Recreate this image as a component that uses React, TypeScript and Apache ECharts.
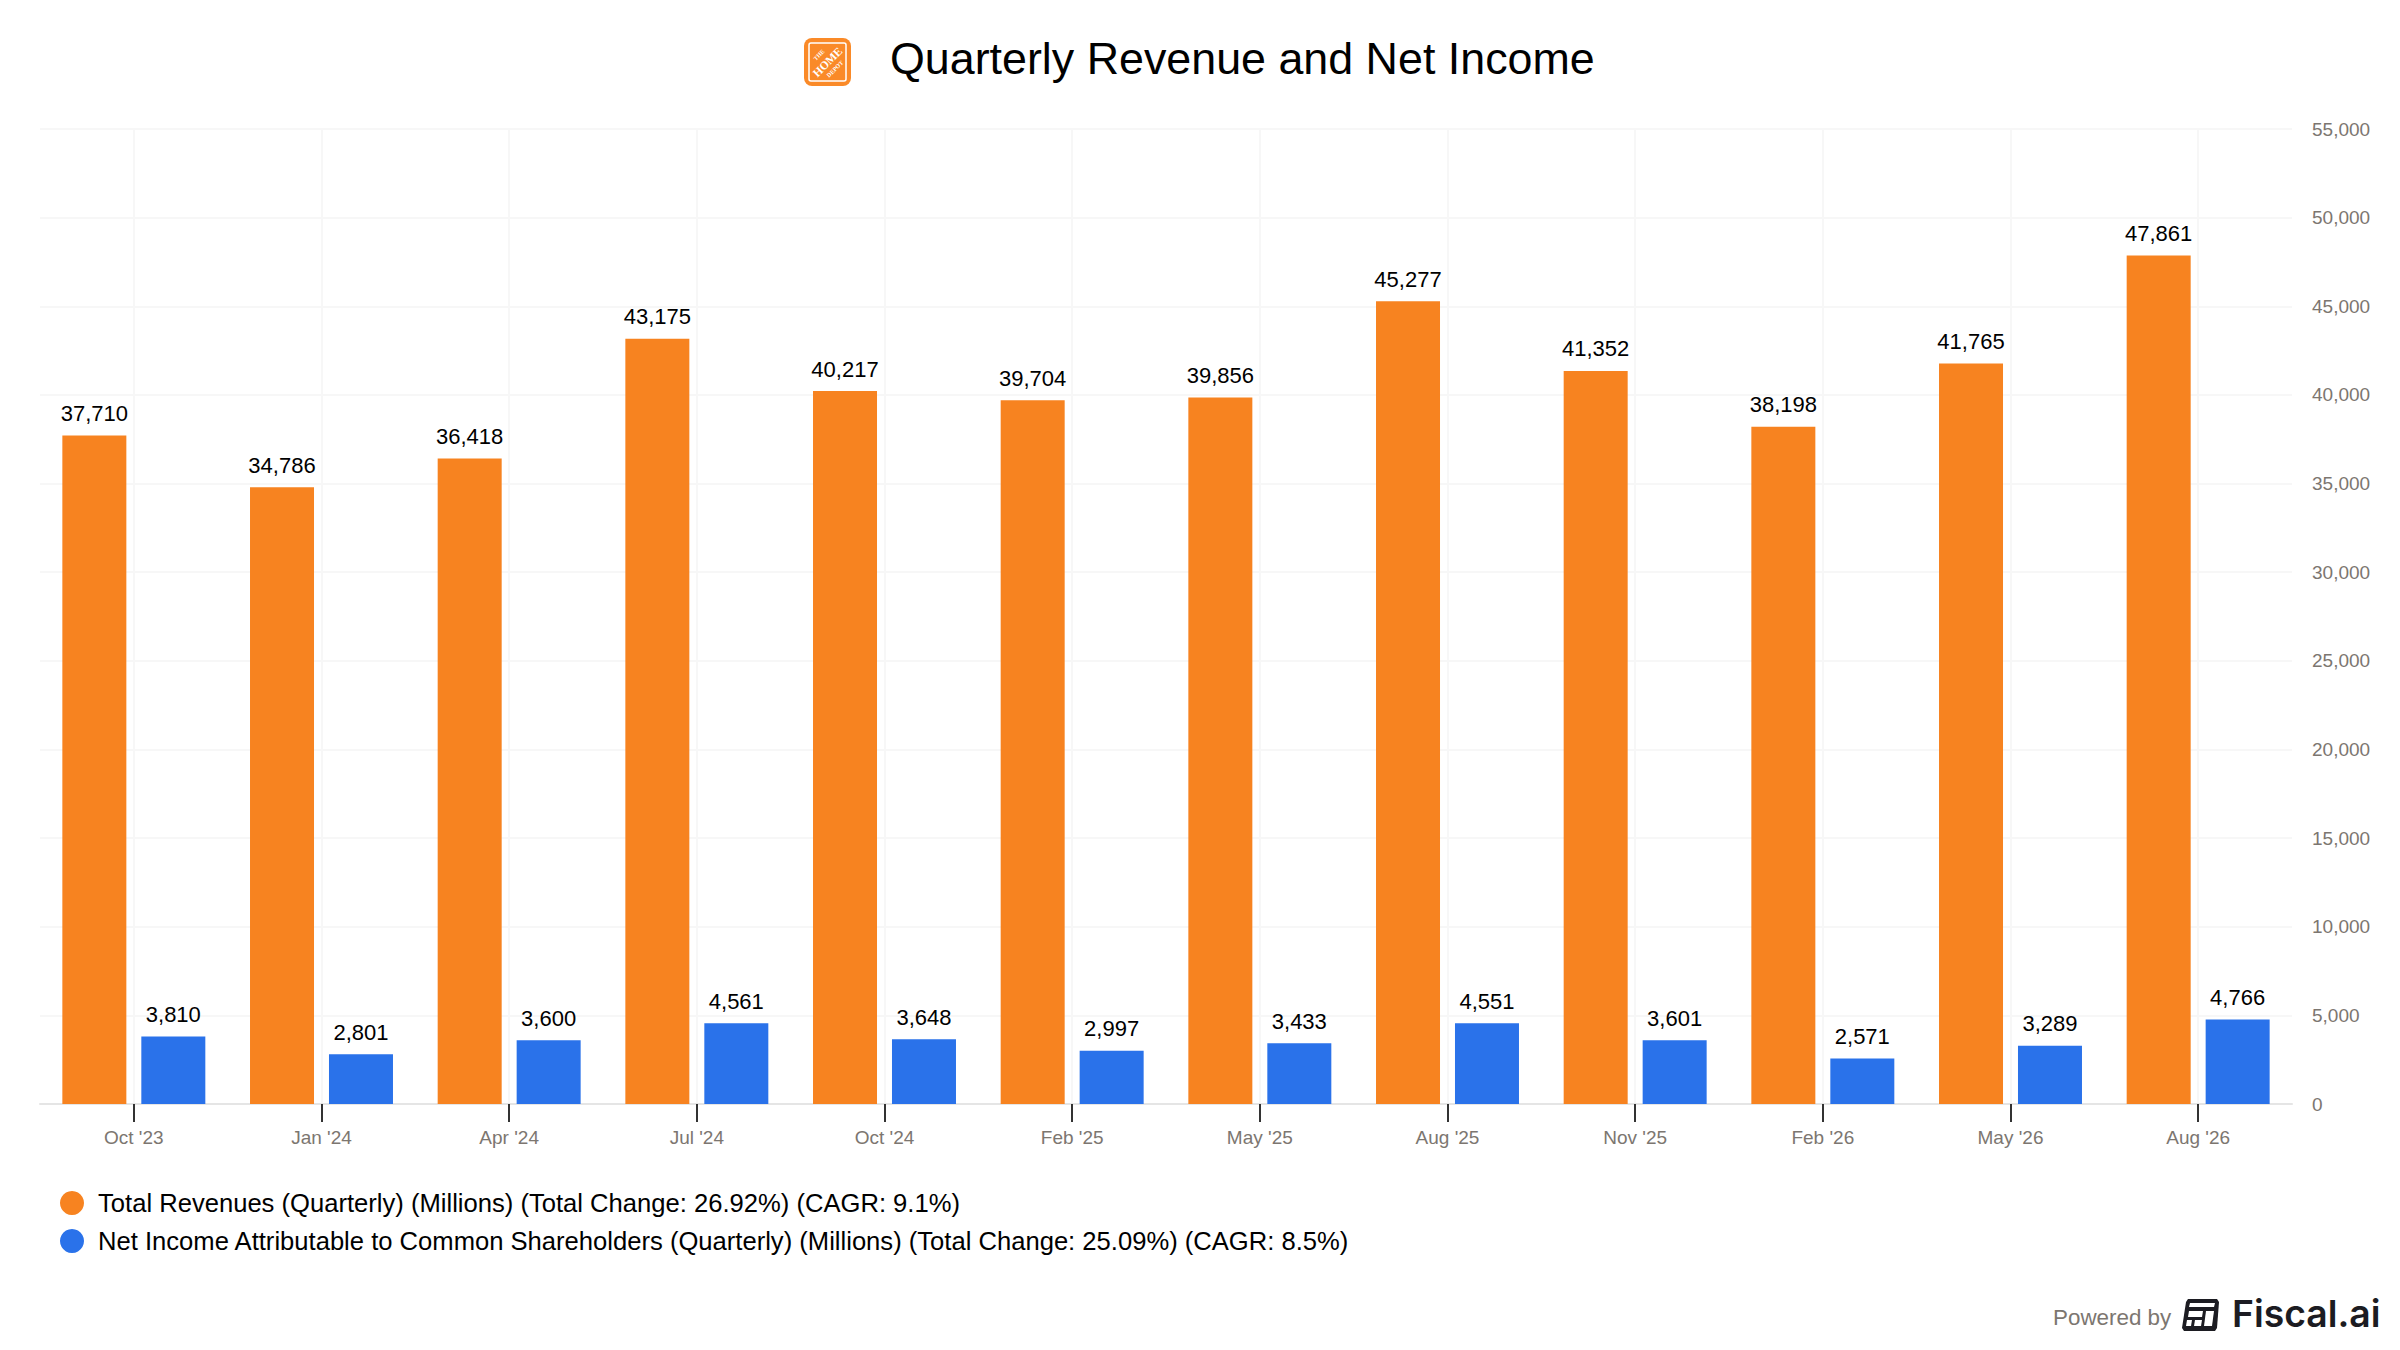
import React, { useEffect, useRef } from 'react';
import * as echarts from 'echarts';

const quarters = ["Oct '23", "Jan '24", "Apr '24", "Jul '24", "Oct '24", "Feb '25", "May '25", "Aug '25", "Nov '25", "Feb '26", "May '26", "Aug '26"];
const revenues = [37710, 34786, 36418, 43175, 40217, 39704, 39856, 45277, 41352, 38198, 41765, 47861];
const netIncome = [3810, 2801, 3600, 4561, 3648, 2997, 3433, 4551, 3601, 2571, 3289, 4766];
const revenueName = 'Total Revenues (Quarterly) (Millions) (Total Change: 26.92%) (CAGR: 9.1%)';
const incomeName = 'Net Income Attributable to Common Shareholders (Quarterly) (Millions) (Total Change: 25.09%) (CAGR: 8.5%)';

const FONT = '"Liberation Sans", Arial, sans-serif';
const ORANGE = '#f78320';
const BLUE = '#2a72ea';
const GRAY = '#7c7670';
const INK = '#1c1c22';

// small slanted panels of the Fiscal.ai mark
const markPanels = [
  [[8, 4], [33, 4], [32, 8], [7, 8]],
  [[7, 12], [21, 12], [20, 18], [6, 18]],
  [[24, 12], [32, 12], [30, 27], [22, 27]],
  [[5, 21], [10, 21], [9, 27], [4, 27]],
  [[13, 21], [20, 21], [19, 27], [12, 27]],
];

const logoWord = (text: string, x: number, y: number, size: number) => ({
  type: 'text',
  x,
  y,
  rotation: Math.PI / 4,
  style: { text, fill: '#fff', fontSize: size, fontWeight: 'bold', fontFamily: '"Liberation Serif", serif', align: 'center', verticalAlign: 'middle' },
});

const App: React.FC = () => {
  const chartRef = useRef<HTMLDivElement>(null);

  useEffect(() => {
    if (!chartRef.current) return;
    const chart = echarts.init(chartRef.current, undefined, { renderer: 'svg' });

    const barLabel = {
      show: true,
      position: 'top' as const,
      distance: 11,
      color: '#000',
      fontSize: 22,
      fontFamily: FONT,
      formatter: (p: any) => p.value.toLocaleString('en-US'),
    };

    chart.setOption({
      animation: false,
      backgroundColor: '#fff',
      textStyle: { fontFamily: FONT },
      title: {
        text: 'Quarterly Revenue and Net Income',
        left: 885,
        top: 30,
        textStyle: { fontSize: 44.8, fontWeight: 'normal', color: '#000', fontFamily: FONT },
      },
      legend: {
        orient: 'vertical',
        left: 55,
        top: 1185,
        icon: 'circle',
        itemWidth: 24,
        itemHeight: 24,
        itemGap: 12,
        selectedMode: false,
        textStyle: { fontSize: 25.6, color: '#000', fontFamily: FONT, padding: [0, 0, 0, 9] },
      },
      grid: { left: 40, right: 108, top: 129, bottom: 246 },
      xAxis: {
        type: 'category',
        data: quarters,
        axisLine: { lineStyle: { color: '#e5e5e5', width: 2 } },
        axisTick: { show: true, alignWithLabel: true, length: 18, lineStyle: { color: '#333', width: 2 } },
        axisLabel: { color: GRAY, fontSize: 19, margin: 24, fontFamily: FONT },
        splitLine: { show: true, alignWithLabel: true, lineStyle: { color: '#f7f7f7', width: 2 } },
      },
      yAxis: {
        type: 'value',
        position: 'right',
        min: 0,
        max: 55000,
        interval: 5000,
        axisLine: { show: false },
        axisTick: { show: false },
        axisLabel: {
          color: GRAY,
          fontSize: 19,
          margin: 20,
          fontFamily: FONT,
          formatter: (v: number) => v.toLocaleString('en-US'),
        },
        splitLine: { lineStyle: { color: '#f7f7f7', width: 2 } },
      },
      series: [
        { name: revenueName, type: 'bar', data: revenues, barWidth: 64, barGap: '23.4%', itemStyle: { color: ORANGE }, label: barLabel },
        { name: incomeName, type: 'bar', data: netIncome, barWidth: 64, itemStyle: { color: BLUE }, label: barLabel },
      ],
      graphic: [
        {
          type: 'group',
          left: 804,
          top: 38,
          children: [
            { type: 'rect', shape: { x: 0, y: 0, width: 47, height: 48, r: 8 }, style: { fill: '#fa8a28' } },
            { type: 'rect', shape: { x: 5, y: 5, width: 37, height: 38, r: 2 }, style: { fill: '#fa8a28', stroke: '#fff', lineWidth: 1.5 } },
            logoWord('THE', 15, 17, 6),
            logoWord('HOME', 23.5, 24, 11.5),
            logoWord('DEPOT', 31, 31, 6),
          ],
        },
        {
          type: 'text',
          left: 2053,
          top: 1306,
          style: { text: 'Powered by', fill: GRAY, fontSize: 22.4, fontFamily: FONT },
        },
        {
          type: 'group',
          left: 2182,
          top: 1299,
          children: [
            {
              type: 'polygon',
              shape: { points: [[6, 0], [35, 0], [37, 3], [35, 29], [33, 32], [2, 32], [0, 29], [4, 3]] },
              style: { fill: INK },
            },
            ...markPanels.map((points) => ({ type: 'polygon', shape: { points }, style: { fill: '#fff' } })),
          ],
        },
        {
          type: 'text',
          left: 2232,
          top: 1295,
          style: { text: 'Fiscal.ai', fill: INK, fontSize: 37.3, fontWeight: 600, fontFamily: 'Inter, sans-serif' },
        },
      ],
    });

    return () => chart.dispose();
  }, []);

  return <div ref={chartRef} style={{ position: 'fixed', left: 0, top: 0, width: 2400, height: 1350 }} />;
};

export default App;
